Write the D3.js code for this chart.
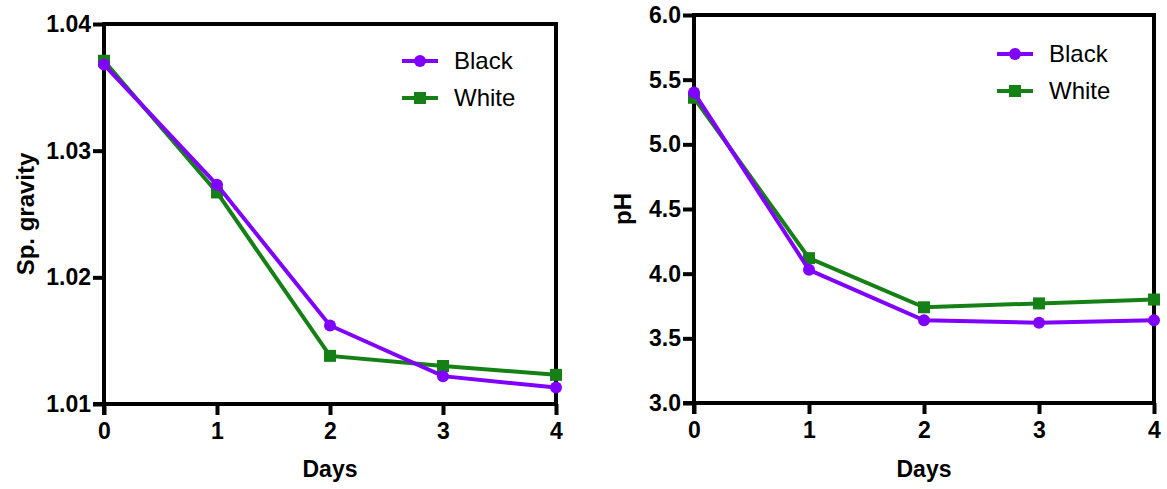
<!DOCTYPE html>
<html><head><meta charset="utf-8">
<script src="https://cdn.jsdelivr.net/npm/d3@7"></script>
<style>body{margin:0;background:#fff}svg{display:block}</style>
</head><body>
<svg id="c" width="1167" height="489"></svg>
<script>
const days = [0, 1, 2, 3, 4];
const seriesNames = ["Black", "White"];
const sgBlack = [1.0368, 1.0273, 1.0162, 1.0122, 1.0113];
const sgWhite = [1.0371, 1.0267, 1.0138, 1.0130, 1.0123];
const phBlack = [5.40, 4.03, 3.64, 3.62, 3.64];
const phWhite = [5.36, 4.12, 3.74, 3.77, 3.80];
const sgTicks = [1.01, 1.02, 1.03, 1.04];
const phTicks = [3.0, 3.5, 4.0, 4.5, 5.0, 5.5, 6.0];
const colors = {Black: "#8000ff", White: "#158015"};
const FONT = "'Liberation Sans', Arial, Helvetica, sans-serif";

const svg = d3.select("#c");

function panel(opt) {
  const x = d3.scaleLinear().domain([0, 4]).range([opt.x0, opt.x1]);
  const y = d3.scaleLinear().domain(opt.ydom).range([opt.y1, opt.y0]);
  const g = svg.append("g");
  g.append("path").attr("d", `M${opt.x0},${opt.y0}H${opt.x1}V${opt.y1}`)
    .attr("fill", "none").attr("stroke", "#000").attr("stroke-width", 4);
  const xa = g.append("g").attr("transform", `translate(0,${opt.y1})`)
    .call(d3.axisBottom(x).tickValues(days).tickFormat(d3.format("d")).tickSize(11).tickPadding(8));
  const ya = g.append("g").attr("transform", `translate(${opt.x0},0)`)
    .call(d3.axisLeft(y).tickValues(opt.ticks).tickFormat(opt.fmt).tickSize(11).tickPadding(2));
  [xa, ya].forEach(a => {
    a.attr("font-size", null).attr("font-family", null);
    a.select(".domain").attr("stroke-width", 4).attr("stroke", "#000");
    a.selectAll(".tick line").attr("stroke-width", 4).attr("stroke", "#000");
    a.selectAll("text").style("font-family", FONT).style("font-weight", "bold")
      .style("font-size", "23px").attr("fill", "#000");
  });
  xa.select(".domain").attr("d", `M${opt.x0 - 11},0H${opt.x1 + 2}`);
  ya.select(".domain").attr("d", `M0,${opt.y1 + 11}V${opt.y0 - 2}`);

  const line = d3.line().x((d, i) => x(days[i])).y(d => y(d));
  const data = [{name: "White", v: opt.white}, {name: "Black", v: opt.black}];
  data.forEach(s => {
    g.append("path").datum(s.v).attr("d", line).attr("fill", "none")
      .attr("stroke", colors[s.name]).attr("stroke-width", 4);
    if (s.name === "Black") {
      g.selectAll(null).data(s.v).enter().append("circle")
        .attr("cx", (d, i) => x(days[i])).attr("cy", d => y(d)).attr("r", 6)
        .attr("fill", colors.Black);
    } else {
      g.selectAll(null).data(s.v).enter().append("rect")
        .attr("x", (d, i) => x(days[i]) - 6).attr("y", d => y(d) - 6)
        .attr("width", 12).attr("height", 12).attr("fill", colors.White);
    }
  });
  g.append("text").attr("x", (opt.x0 + opt.x1) / 2).attr("y", 477)
    .attr("text-anchor", "middle").style("font-family", FONT).style("font-weight", "bold")
    .style("font-size", "23px").text("Days");
  g.append("text").attr("transform", `translate(${opt.ytx},${(opt.y0 + opt.y1) / 2}) rotate(-90)`)
    .attr("text-anchor", "middle").style("font-family", FONT).style("font-weight", "bold")
    .style("font-size", "24px").text(opt.ytitle);
  seriesNames.forEach((n, i) => {
    const ly = opt.ly + i * 37;
    const lg = g.append("g");
    lg.append("line").attr("x1", opt.lx).attr("x2", opt.lx + 36).attr("y1", ly).attr("y2", ly)
      .attr("stroke", colors[n]).attr("stroke-width", 4);
    if (n === "Black") lg.append("circle").attr("cx", opt.lx + 18).attr("cy", ly).attr("r", 6).attr("fill", colors[n]);
    else lg.append("rect").attr("x", opt.lx + 12).attr("y", ly - 6).attr("width", 12).attr("height", 12).attr("fill", colors[n]);
    lg.append("text").attr("x", opt.lx + 52).attr("y", ly + 8).style("font-family", FONT)
      .style("font-size", "24px").attr("fill", "#000").text(n);
  });
}

panel({x0: 104, x1: 556, y0: 24, y1: 404, ydom: [1.01, 1.04], ticks: sgTicks,
  fmt: d3.format(".2f"), black: sgBlack, white: sgWhite, ytitle: "Sp. gravity", ytx: 34,
  lx: 402, ly: 61});
panel({x0: 694, x1: 1154, y0: 15, y1: 403, ydom: [3, 6], ticks: phTicks,
  fmt: d3.format(".1f"), black: phBlack, white: phWhite, ytitle: "pH", ytx: 631,
  lx: 997, ly: 54});
</script>
</body></html>
